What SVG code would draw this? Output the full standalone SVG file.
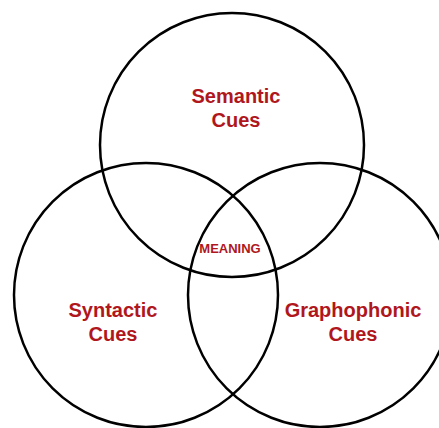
<svg xmlns="http://www.w3.org/2000/svg" width="439" height="428" viewBox="0 0 439 428">
<style>
.c{fill:none;stroke:#000;stroke-width:2.5}
.t{font-family:"Liberation Sans",Arial,sans-serif;font-weight:bold;fill:#b0171d;text-anchor:middle}
.l{font-size:20px}
.m{font-size:13px}
</style>
<rect width="439" height="428" fill="#fff"/>
<g id="semantic">
<circle class="c" cx="232" cy="145" r="132"/>
<text class="t l" x="236" y="103">Semantic</text>
<text class="t l" x="236" y="127">Cues</text>
</g>
<g id="syntactic">
<circle class="c" cx="146" cy="295" r="132"/>
<text class="t l" x="113" y="317">Syntactic</text>
<text class="t l" x="113" y="341">Cues</text>
</g>
<g id="graphophonic">
<circle class="c" cx="320" cy="295" r="132"/>
<text class="t l" x="353" y="317">Graphophonic</text>
<text class="t l" x="353" y="341">Cues</text>
</g>
<g id="meaning">
<text class="t m" x="230" y="253">MEANING</text>
</g>
<g id="connectors"/>
</svg>
